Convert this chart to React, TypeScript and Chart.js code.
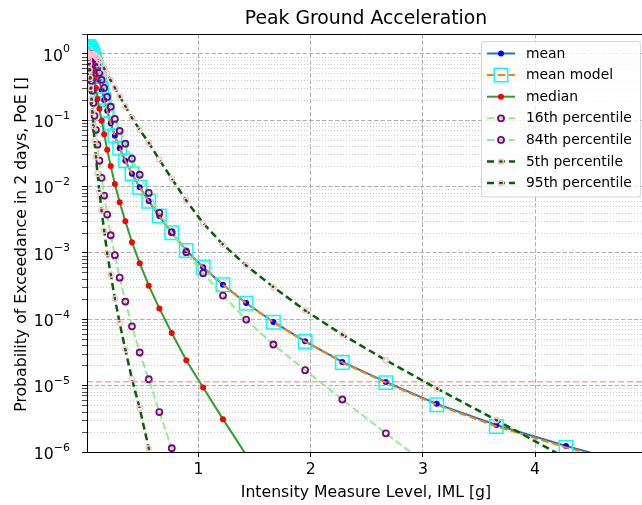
import React, { useEffect, useRef } from 'react';
import { Chart, registerables } from 'chart.js';

Chart.register(...registerables);

const TITLE = 'Peak Ground Acceleration';
const X_LABEL = 'Intensity Measure Level, IML [g]';
const Y_LABEL = 'Probability of Exceedance in 2 days, PoE []';

// Intensity measure levels [g]
const iml = [
  0.005, 0.005851, 0.006846, 0.008011, 0.00937, 0.010962, 0.012826, 0.015007, 0.01756, 0.020546,
  0.02404, 0.028128, 0.032912, 0.038509, 0.045058, 0.052721, 0.061686, 0.072177, 0.084452, 0.098723,
  0.11553, 0.13516, 0.15815, 0.18505, 0.21652, 0.25334, 0.29643, 0.34684, 0.40582, 0.47484,
  0.55559, 0.65007, 0.76063, 0.88989, 1.0403, 1.2172, 1.4242, 1.6665, 1.9498, 2.2813,
  2.6693, 3.1232, 3.6543, 4.2757, 5.0,
];

const meanPoE = [
  0.999, 0.999, 0.998, 0.998, 0.997, 0.996, 0.995, 0.994, 0.993, 0.991,
  0.989, 0.987, 0.984, 0.979, 0.955, 0.916, 0.855, 0.759, 0.638, 0.509,
  0.393, 0.288, 0.203, 0.139, 0.0902, 0.0585, 0.0379, 0.0246, 0.0157, 0.00982,
  0.00605, 0.0036, 0.00203, 0.00109, 6.11e-4, 3.33e-4, 1.76e-4, 9.12e-5, 4.67e-5, 2.28e-5,
  1.14e-5, 5.32e-6, 2.55e-6, 1.23e-6, 5.75e-7,
];

const meanModelPoE = [
  1.30, 1.30, 1.30, 1.29, 1.29, 1.28, 1.28, 1.27, 1.26, 1.25,
  1.23, 1.21, 1.18, 1.14, 1.09, 1.02, 0.94, 0.83, 0.69, 0.53,
  0.392, 0.288, 0.204, 0.139, 0.0905, 0.0585, 0.038, 0.0246, 0.0157, 0.0098,
  0.00603, 0.0036, 0.00202, 0.00109, 6.1e-4, 3.32e-4, 1.75e-4, 9.05e-5, 4.62e-5, 2.24e-5,
  1.11e-5, 5.15e-6, 2.43e-6, 1.17e-6, 5.6e-7,
];

const medianPoE = [
  0.9999, 0.9999, 0.9999, 0.9999, 0.9999, 0.9999, 0.9998, 0.9996, 0.999, 0.998,
  0.996, 0.993, 0.986, 0.959, 0.891, 0.759, 0.582, 0.4355, 0.308, 0.21,
  0.149, 0.0982, 0.0619, 0.036, 0.0205, 0.011, 0.00581, 0.003, 0.00145, 7.03e-4,
  3.21e-4, 1.46e-4, 6.22e-5, 2.42e-5, 9.4e-6, 3.13e-6, 9.0e-7, 2.5e-7, null, null,
  null, null, null, null, null,
];

const p16PoE = [
  0.999, 0.998, 0.997, 0.996, 0.994, 0.992, 0.988, 0.982, 0.972, 0.933,
  0.871, 0.785, 0.661, 0.518, 0.393, 0.278, 0.183, 0.117, 0.0719, 0.0429,
  0.0246, 0.0136, 0.00733, 0.00379, 0.00185, 9.27e-4, 4.24e-4, 1.85e-4, 7.85e-5, 3.16e-5,
  1.25e-5, 4.0e-6, 1.14e-6, 3.2e-7, null, null, null, null, null, null,
  null, null, null, null, null,
];

const p84PoE = [
  0.9999, 0.9999, 0.9999, 0.9999, 0.9999, 0.9998, 0.9998, 0.9997, 0.9995, 0.999,
  0.998, 0.997, 0.995, 0.99, 0.975, 0.948, 0.902, 0.841, 0.759, 0.638,
  0.518, 0.406, 0.308, 0.225, 0.16, 0.105, 0.0695, 0.0444, 0.0264, 0.0151,
  0.00804, 0.00403, 0.00206, 0.00103, 4.97e-4, 2.28e-4, 9.9e-5, 4.17e-5, 1.71e-5, 6.19e-6,
  1.91e-6, 5.0e-7, null, null, null,
];

const p5PoE = [
  0.999, 0.998, 0.997, 0.995, 0.992, 0.988, 0.975, 0.955, 0.915, 0.82,
  0.71, 0.574, 0.4355, 0.308, 0.21, 0.134, 0.0826, 0.0492, 0.0282, 0.0157,
  0.00841, 0.00436, 0.00218, 9.93e-4, 4.75e-4, 2.05e-4, 8.79e-5, 3.5e-5, 1.26e-5, 4.54e-6,
  1.14e-6, 2.8e-7, null, null, null, null, null, null, null, null,
  null, null, null, null, null,
];

const p95PoE = [
  0.9999, 0.9999, 0.9999, 0.9999, 0.9999, 0.9999, 0.9999, 0.9999, 0.9999, 0.9999,
  0.9998, 0.9997, 0.9995, 0.999, 0.998, 0.995, 0.985, 0.965, 0.923, 0.871,
  0.798, 0.708, 0.605, 0.5, 0.4, 0.308, 0.23, 0.163, 0.109, 0.0719,
  0.0459, 0.0255, 0.0132, 0.00617, 0.00282, 0.00134, 6.49e-4, 3.06e-4, 1.36e-4, 5.89e-5,
  2.42e-5, 9.08e-6, 3.03e-6, 8.1e-7, 1.6e-7,
];

// Threshold line (PoE level)
const thresholdX = [0.005, 5.0];
const thresholdY = [1.15e-5, 1.15e-5];

// Axis ticks
const xTicks = [1, 2, 3, 4];
const yMajorTicks = [1e-6, 1e-5, 1e-4, 1e-3, 1e-2, 1e-1, 1];
const yMajorExponents = ['−6', '−5', '−4', '−3', '−2', '−1', '0'];
const yMinorMultipliers = [2, 3, 4, 5, 6, 7, 8, 9];

const FONT = '"DejaVu Sans", "Liberation Sans", sans-serif';

function toPoints(xs: number[], ys: (number | null)[]) {
  const out: { x: number; y: number }[] = [];
  xs.forEach((x, i) => {
    const y = ys[i];
    if (y !== null && y !== undefined) out.push({ x, y });
  });
  return out;
}

type MarkerKind = 'dot' | 'ring' | 'square';

interface LegendSpec {
  label: string;
  color: string;
  width: number;
  dash: number[];
  marker: MarkerKind;
  markerColor: string;
  markerSize: number;
  markerWidth: number;
}

const legendSpecs: LegendSpec[] = [
  { label: 'mean', color: '#1f77b4', width: 2, dash: [], marker: 'dot', markerColor: '#0000ff', markerSize: 3, markerWidth: 0 },
  { label: 'mean model', color: '#ff7f0e', width: 2, dash: [7.5, 3.3], marker: 'square', markerColor: '#00ffff', markerSize: 6.7, markerWidth: 1.5 },
  { label: 'median', color: '#2ca02c', width: 2, dash: [], marker: 'dot', markerColor: '#ff0000', markerSize: 3, markerWidth: 0 },
  { label: '16th percentile', color: '#90ee90', width: 2, dash: [7.5, 3.3], marker: 'ring', markerColor: '#800080', markerSize: 3, markerWidth: 1.8 },
  { label: '84th percentile', color: '#90ee90', width: 2, dash: [7.5, 3.3], marker: 'ring', markerColor: '#800080', markerSize: 3, markerWidth: 1.8 },
  { label: '5th percentile', color: '#006400', width: 2.5, dash: [7, 4], marker: 'ring', markerColor: '#ffc0cb', markerSize: 2.6, markerWidth: 1.5 },
  { label: '95th percentile', color: '#006400', width: 2.5, dash: [7, 4], marker: 'ring', markerColor: '#ffc0cb', markerSize: 2.6, markerWidth: 1.5 },
];

const overlayPlugin = {
  id: 'overlay',
  afterDraw(chart: any) {
    const { ctx, chartArea: a } = chart;
    ctx.save();
    // top spine
    ctx.strokeStyle = '#000';
    ctx.lineWidth = 1;
    ctx.setLineDash([]);
    ctx.beginPath();
    ctx.moveTo(a.left, Math.round(a.top) + 0.5);
    ctx.lineTo(a.right, Math.round(a.top) + 0.5);
    ctx.stroke();

    // y tick labels (10 with superscript exponent)
    const ys = chart.scales.y;
    ctx.fillStyle = '#000';
    ctx.textBaseline = 'alphabetic';
    ctx.textAlign = 'left';
    yMajorTicks.forEach((v, i) => {
      const py = ys.getPixelForValue(v);
      const exp = yMajorExponents[i];
      ctx.font = `11px ${FONT}`;
      const ew = ctx.measureText(exp).width;
      ctx.font = `15.7px ${FONT}`;
      const bw = ctx.measureText('10').width;
      const right = 70;
      ctx.fillText('10', right - ew - bw, py + 6.7);
      ctx.font = `11px ${FONT}`;
      ctx.fillText(exp, right - ew, py - 1.5);
    });

    // title and axis labels
    ctx.textAlign = 'center';
    ctx.textBaseline = 'alphabetic';
    ctx.font = `18.8px ${FONT}`;
    ctx.fillText(TITLE, 366, 24);
    ctx.font = `15.7px ${FONT}`;
    ctx.fillText(X_LABEL, 366, 497);
    ctx.save();
    ctx.translate(26, (a.top + a.bottom) / 2 + 1.5);
    ctx.rotate(-Math.PI / 2);
    ctx.fillText(Y_LABEL, 0, 0);
    ctx.restore();

    // legend
    const bx = 481.5, by = 41.5, bw = 159, bh = 155.5;
    ctx.beginPath();
    if (ctx.roundRect) ctx.roundRect(bx, by, bw, bh, 3);
    else ctx.rect(bx, by, bw, bh);
    ctx.fillStyle = 'rgba(255,255,255,0.8)';
    ctx.fill();
    ctx.strokeStyle = 'rgba(204,204,204,0.8)';
    ctx.lineWidth = 1;
    ctx.stroke();

    legendSpecs.forEach((s, i) => {
      const y = 53.5 + i * 21.6;
      ctx.save();
      ctx.strokeStyle = s.color;
      ctx.lineWidth = s.width;
      ctx.setLineDash(s.dash);
      ctx.beginPath();
      ctx.moveTo(487, y);
      ctx.lineTo(515, y);
      ctx.stroke();
      ctx.setLineDash([]);
      const mx = 501;
      if (s.marker === 'dot') {
        ctx.fillStyle = s.markerColor;
        ctx.beginPath();
        ctx.arc(mx, y, s.markerSize, 0, Math.PI * 2);
        ctx.fill();
      } else if (s.marker === 'ring') {
        ctx.strokeStyle = s.markerColor;
        ctx.lineWidth = s.markerWidth;
        ctx.beginPath();
        ctx.arc(mx, y, s.markerSize, 0, Math.PI * 2);
        ctx.stroke();
      } else {
        ctx.strokeStyle = s.markerColor;
        ctx.lineWidth = s.markerWidth;
        ctx.strokeRect(mx - s.markerSize, y - s.markerSize, s.markerSize * 2, s.markerSize * 2);
      }
      ctx.fillStyle = '#000';
      ctx.textAlign = 'left';
      ctx.textBaseline = 'middle';
      ctx.font = `13.9px ${FONT}`;
      ctx.fillText(s.label, 526, y + 0.5);
      ctx.restore();
    });
    ctx.restore();
  },
};

function buildYTicks() {
  const ticks: { value: number; major: boolean }[] = [];
  yMajorTicks.forEach((m) => {
    ticks.push({ value: m, major: true });
    if (m < 1) {
      yMinorMultipliers.forEach((k) => ticks.push({ value: m * k, major: false }));
    }
  });
  ticks.push({ value: 2, major: false });
  return ticks.sort((p, q) => p.value - q.value);
}

export default function App() {
  const ref = useRef<HTMLCanvasElement | null>(null);

  useEffect(() => {
    if (!ref.current) return;
    const common = { tension: 0, clip: 0, pointHoverRadius: 0 } as any;
    const chart = new Chart(ref.current, {
      type: 'line',
      data: {
        datasets: [
          {
            ...common, label: 'mean', data: toPoints(iml, meanPoE),
            borderColor: '#1f77b4', borderWidth: 2,
            pointStyle: 'circle', pointRadius: 3, pointBackgroundColor: '#0000ff', pointBorderColor: '#0000ff', pointBorderWidth: 0,
            order: 7,
          },
          {
            ...common, label: 'mean model', data: toPoints(iml, meanModelPoE),
            borderColor: '#ff7f0e', borderWidth: 2, borderDash: [7.5, 3.3],
            pointStyle: 'rect', pointRadius: 9.5, pointBackgroundColor: 'rgba(0,0,0,0)', pointBorderColor: '#00ffff', pointBorderWidth: 1.5,
            order: 6,
          },
          {
            ...common, label: 'median', data: toPoints(iml, medianPoE),
            borderColor: '#2ca02c', borderWidth: 2,
            pointStyle: 'circle', pointRadius: 3, pointBackgroundColor: '#ff0000', pointBorderColor: '#ff0000', pointBorderWidth: 0,
            order: 5,
          },
          {
            ...common, label: '16th percentile', data: toPoints(iml, p16PoE),
            borderColor: '#90ee90', borderWidth: 2, borderDash: [7.5, 3.3],
            pointStyle: 'circle', pointRadius: 3, pointBackgroundColor: 'rgba(0,0,0,0)', pointBorderColor: '#800080', pointBorderWidth: 1.8,
            order: 4,
          },
          {
            ...common, label: '84th percentile', data: toPoints(iml, p84PoE),
            borderColor: '#90ee90', borderWidth: 2, borderDash: [7.5, 3.3],
            pointStyle: 'circle', pointRadius: 3, pointBackgroundColor: 'rgba(0,0,0,0)', pointBorderColor: '#800080', pointBorderWidth: 1.8,
            order: 3,
          },
          {
            ...common, label: '5th percentile', data: toPoints(iml, p5PoE),
            borderColor: '#006400', borderWidth: 2.5, borderDash: [7, 4],
            pointStyle: 'circle', pointRadius: 2.6, pointBackgroundColor: 'rgba(0,0,0,0)', pointBorderColor: '#ffc0cb', pointBorderWidth: 1.5,
            order: 2,
          },
          {
            ...common, label: '95th percentile', data: toPoints(iml, p95PoE),
            borderColor: '#006400', borderWidth: 2.5, borderDash: [7, 4],
            pointStyle: 'circle', pointRadius: 2.6, pointBackgroundColor: 'rgba(0,0,0,0)', pointBorderColor: '#ffc0cb', pointBorderWidth: 1.5,
            order: 1,
          },
          {
            ...common, label: 'threshold', data: toPoints(thresholdX, thresholdY),
            borderColor: 'rgba(255,90,90,0.55)', borderWidth: 1.5, borderDash: [6, 3],
            pointRadius: 0,
            order: 0,
          },
        ],
      },
      options: {
        responsive: false,
        animation: false,
        events: [],
        parsing: false as any,
        layout: { autoPadding: false, padding: { top: 34, left: 0, right: 0, bottom: 0 } },
        plugins: {
          legend: { display: false },
          title: { display: false },
          tooltip: { enabled: false },
        },
        scales: {
          x: {
            type: 'linear',
            min: 0.005,
            max: 4.953,
            bounds: 'data',
            afterBuildTicks: (s: any) => { s.ticks = xTicks.map((v) => ({ value: v })); },
            afterFit: (s: any) => { s.height = 53; s.paddingLeft = 0; s.paddingRight = 0; },
            ticks: {
              autoSkip: false, maxRotation: 0, minRotation: 0, padding: 4, color: '#000',
              font: { family: FONT, size: 15.7 },
              callback: (v: any) => String(v),
            },
            grid: { color: '#b0b0b0', lineWidth: 1, tickColor: '#000', tickLength: 5, tickWidth: 1 },
            border: { display: true, color: '#000', width: 1, dash: [4.5, 2], z: 1 },
          },
          y: {
            type: 'logarithmic',
            min: 1e-6,
            max: 2,
            afterBuildTicks: (s: any) => { s.ticks = buildYTicks(); },
            afterFit: (s: any) => { s.width = 87; s.paddingTop = 0; s.paddingBottom = 0; },
            ticks: {
              autoSkip: false, padding: 3, color: '#000',
              font: { family: FONT, size: 13.9 },
              callback: () => '',
            },
            grid: {
              color: (c: any) => (c.tick && !c.tick.major ? '#cdcdcd' : '#b0b0b0'),
              lineWidth: 1,
              tickColor: '#000',
              tickLength: 5,
              tickWidth: (c: any) => (c.tick && !c.tick.major ? 0.7 : 1),
            },
            border: {
              display: true, color: '#000', width: 1, z: 1,
              dash: (c: any) => (c.tick && !c.tick.major ? [1, 2] : [4.5, 2]),
            } as any,
          },
        },
      } as any,
      plugins: [overlayPlugin],
    });
    return () => chart.destroy();
  }, []);

  return (
    <div style={{ position: 'absolute', left: 0, top: 0, width: 642, height: 505, background: '#fff' }}>
      <canvas ref={ref} width={642} height={505} style={{ display: 'block', width: 642, height: 505 }} />
    </div>
  );
}
